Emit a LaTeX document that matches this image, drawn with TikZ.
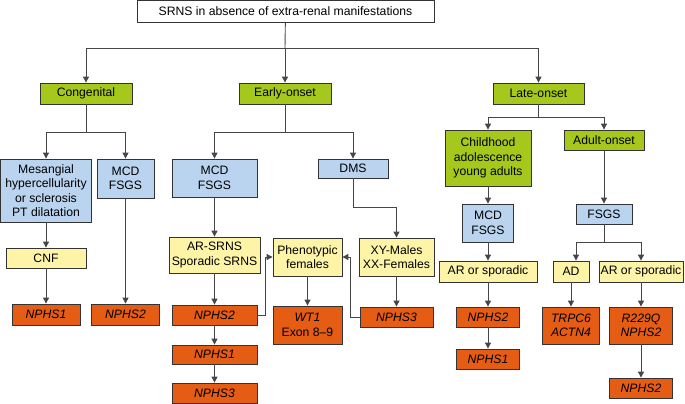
\documentclass[tikz,border=0pt]{standalone}
\usepackage{fontspec}
\setmainfont{Liberation Sans}
\usepackage{xcolor}
\usetikzlibrary{arrows.meta, positioning}
\definecolor{onsetgreen}{RGB}{166,200,28}
\definecolor{histoblue}{RGB}{186,211,238}
\definecolor{inheryellow}{RGB}{253,244,168}
\definecolor{geneorange}{RGB}{229,92,20}
\definecolor{linegray}{RGB}{70,70,70}

\begin{document}
\begin{tikzpicture}[x=1pt, y=-1pt, >={Triangle[length=6pt, width=6pt]},
  box/.style={draw=black!80, line width=0.8pt, inner sep=1pt, align=center, font=\fontsize{12.2}{14.5}\selectfont},
  greenbox/.style={box, fill=onsetgreen},
  bluebox/.style={box, fill=histoblue},
  yellowbox/.style={box, fill=inheryellow},
  genebox/.style={box, fill=geneorange},
  link/.style={draw=linegray, line width=0.9pt}]
\useasboundingbox (0,0) rectangle (685,404);

\node[box, fill=white, minimum width=297pt, minimum height=22pt] (top) at (285.5,11.5) {SRNS in absence of extra-renal manifestations};

\node[greenbox, minimum width=92pt, minimum height=21pt] (cong) at (86,93.5) {Congenital};
\node[greenbox, minimum width=92pt, minimum height=21pt] (early) at (285,93.5) {Early-onset};
\node[greenbox, minimum width=91pt, minimum height=21pt] (late) at (538.5,93.5) {Late-onset};

\node[bluebox, minimum width=91pt, minimum height=63pt] (mes) at (46,190.5) {Mesangial\\hypercellularity\\or sclerosis\\PT dilatation};
\node[bluebox, minimum width=57pt, minimum height=39pt] (mcdA) at (125.5,178.5) {MCD\\FSGS};
\node[bluebox, minimum width=85pt, minimum height=38pt] (mcdB) at (214.5,178) {MCD\\FSGS};
\node[bluebox, minimum width=70pt, minimum height=19pt] (dms) at (353,168.5) {DMS};
\node[greenbox, minimum width=86pt, minimum height=56pt] (child) at (488,158) {Childhood\\adolescence\\young adults};
\node[greenbox, minimum width=80pt, minimum height=20pt] (adult) at (604,140) {Adult-onset};

\node[yellowbox, minimum width=80pt, minimum height=20pt] (cnf) at (46,258) {CNF};
\node[genebox, minimum width=68pt, minimum height=21pt] (nphsOneA) at (46,314.5) {\textit{NPHS1}};
\node[genebox, minimum width=68pt, minimum height=21pt] (nphsTwoA) at (125.5,314.5) {\textit{NPHS2}};

\node[yellowbox, minimum width=91pt, minimum height=36pt] (arsrns) at (214.5,255) {AR-SRNS\\Sporadic SRNS};
\node[yellowbox, minimum width=69pt, minimum height=38pt] (pheno) at (307.5,257) {Phenotypic\\females};
\node[yellowbox, minimum width=75pt, minimum height=38pt] (xy) at (396.5,257) {XY-Males\\XX-Females};
\node[genebox, minimum width=85pt, minimum height=20pt] (nphsTwoB) at (214.5,315) {\textit{NPHS2}};
\node[genebox, minimum width=69pt, minimum height=38pt] (wt) at (307.5,325) {\textit{WT1}\\Exon 8--9};
\node[genebox, minimum width=73pt, minimum height=20pt] (nphsThreeA) at (396.5,317) {\textit{NPHS3}};
\node[genebox, minimum width=85pt, minimum height=19pt] (nphsOneB) at (214.5,354.5) {\textit{NPHS1}};
\node[genebox, minimum width=85pt, minimum height=20pt] (nphsThreeB) at (214.5,393) {\textit{NPHS3}};

\node[bluebox, minimum width=51pt, minimum height=38pt] (mcdC) at (488,223) {MCD\\FSGS};
\node[yellowbox, minimum width=98pt, minimum height=21pt] (arspC) at (488,271.5) {AR or sporadic};
\node[genebox, minimum width=63pt, minimum height=20pt] (nphsTwoC) at (488,317) {\textit{NPHS2}};
\node[genebox, minimum width=63pt, minimum height=20pt] (nphsOneC) at (488,359) {\textit{NPHS1}};

\node[bluebox, minimum width=56pt, minimum height=20pt] (fsgs) at (604,214) {FSGS};
\node[yellowbox, minimum width=36pt, minimum height=21pt] (ad) at (571,271.5) {AD};
\node[yellowbox, minimum width=84pt, minimum height=21pt] (arspD) at (641,271.5) {AR or sporadic};
\node[genebox, minimum width=57pt, minimum height=37pt] (trpc) at (571,325.5) {\textit{TRPC6}\\\textit{ACTN4}};
\node[genebox, minimum width=63pt, minimum height=37pt] (rmut) at (641,325.5) {\textit{R229Q}\\\textit{NPHS2}};
\node[genebox, minimum width=63pt, minimum height=20pt] (nphsTwoD) at (641,388) {\textit{NPHS2}};

\coordinate (topJ) at (285,48);
\coordinate (congJ) at (86,132);
\coordinate (earlyJ) at (285,132);
\coordinate (lateJ) at (538.5,117);
\coordinate (dmsJ) at (353,207);
\coordinate (fsgsJ) at (604,242);

\draw[link] (top) -- (topJ);
\draw[link, ->] (topJ) -| (cong);
\draw[link, ->] (topJ) -- (early);
\draw[link, ->] (topJ) -| (late);

\draw[link] (cong) -- (congJ);
\draw[link, ->] (congJ) -| (mes);
\draw[link, ->] (congJ) -| (mcdA);
\draw[link, ->] (mes) -- (cnf);
\draw[link, ->] (cnf) -- (nphsOneA);
\draw[link, ->] (mcdA) -- (nphsTwoA);

\draw[link] (early) -- (earlyJ);
\draw[link, ->] (earlyJ) -| (mcdB);
\draw[link, ->] (earlyJ) -| (dms);
\draw[link, ->] (mcdB) -- (arsrns);
\draw[link, ->] (arsrns) -- (nphsTwoB);
\draw[link, ->] (nphsTwoB) -- (nphsOneB);
\draw[link, ->] (nphsOneB) -- (nphsThreeB);
\draw[link, ->] (nphsTwoB.east) -- ++(8,0) |- (pheno.west);
\draw[link, ->] (pheno) -- (wt);
\draw[link] (dms) -- (dmsJ);
\draw[link, ->] (dmsJ) -| (xy);
\draw[link, ->] (xy) -- (nphsThreeA);
\draw[link, ->] (nphsThreeA.west) -- ++(-9,0) |- (pheno.east);

\draw[link] (late) -- (lateJ);
\draw[link, ->] (lateJ) -| (child);
\draw[link, ->] (lateJ) -| (adult);
\draw[link, ->] (child) -- (mcdC);
\draw[link, ->] (mcdC) -- (arspC);
\draw[link, ->] (arspC) -- (nphsTwoC);
\draw[link, ->] (nphsTwoC) -- (nphsOneC);

\draw[link, ->] (adult) -- (fsgs);
\draw[link] (fsgs) -- (fsgsJ);
\draw[link, ->] (fsgsJ) -| ([xshift=5pt]ad.north);
\draw[link, ->] (fsgsJ) -| (arspD);
\draw[link, ->] (ad) -- (trpc);
\draw[link, ->] (arspD) -- (rmut);
\draw[link, ->] (rmut) -- (nphsTwoD);
\end{tikzpicture}
\end{document}
